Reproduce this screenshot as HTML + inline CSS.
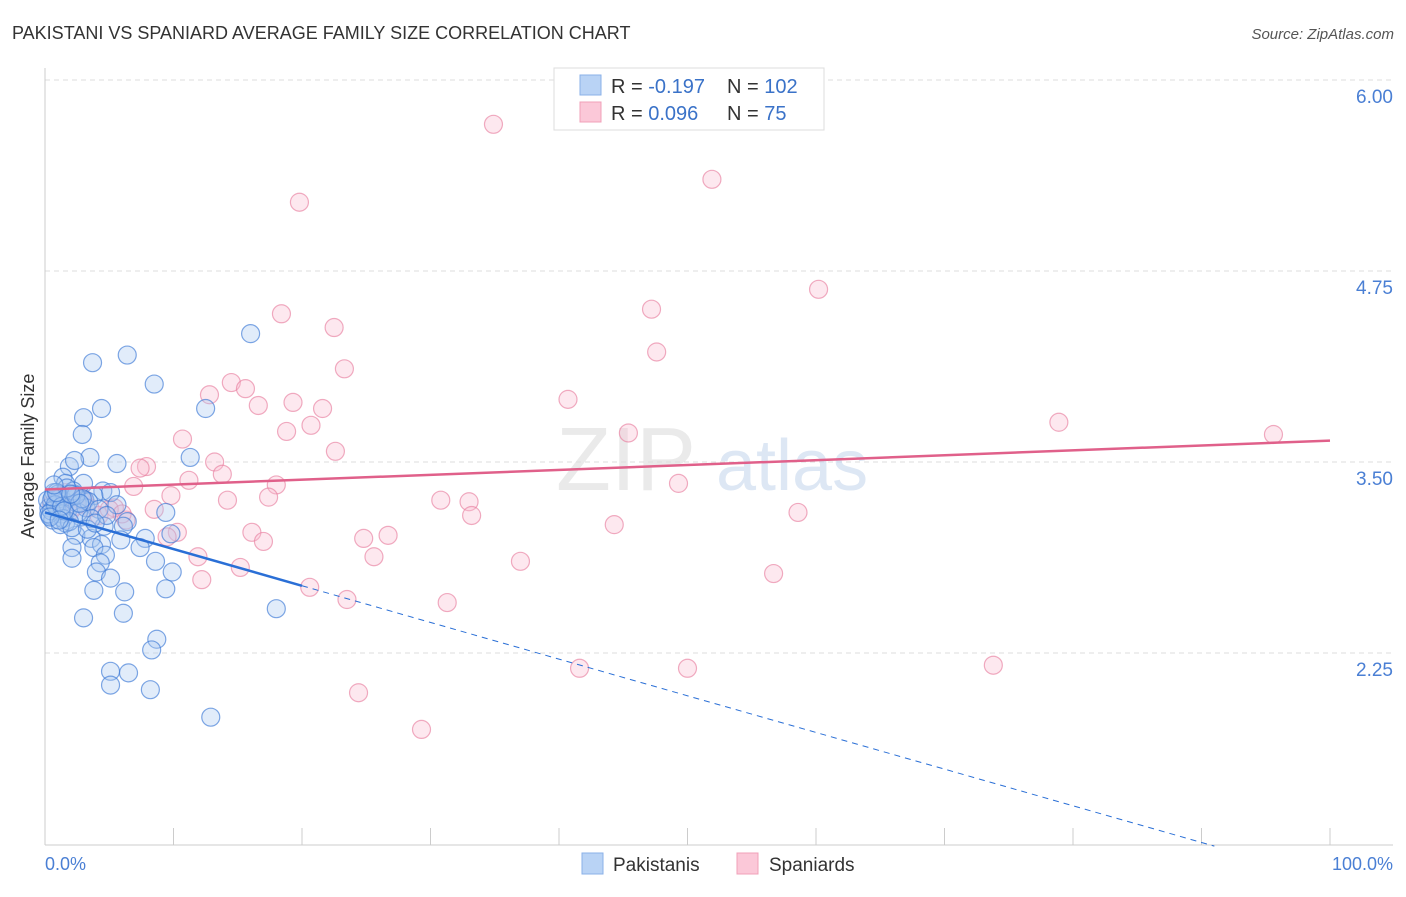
<!DOCTYPE html>
<html><head><meta charset="utf-8"><style>
body{margin:0;background:#fff;font-family:"Liberation Sans",sans-serif;}
svg text{font-family:"Liberation Sans",sans-serif;}
</style></head><body>
<svg id="chart" width="1406" height="892" xmlns="http://www.w3.org/2000/svg">
<text x="12" y="39" font-size="18" fill="#333">PAKISTANI VS SPANIARD AVERAGE FAMILY SIZE CORRELATION CHART</text>
<text x="1394" y="39" font-size="15" fill="#555" text-anchor="end" font-style="italic">Source: ZipAtlas.com</text>
<g id="grid"></g>
<text x="556" y="490" font-size="90" fill="#ddd" font-family="Liberation Serif" opacity="0.6">ZIP</text>
<text x="716" y="490" font-size="72" fill="#c8d8ee" opacity="0.6">atlas</text>
<line x1="45" y1="68" x2="45" y2="845" stroke="#ccc"/>
<line x1="45" y1="845" x2="1393" y2="845" stroke="#ccc"/>
<g id="xticks"></g>
<g id="ylabels"></g>
<text transform="translate(34,456) rotate(-90)" font-size="18" fill="#333" text-anchor="middle">Average Family Size</text>
<text x="45" y="870" font-size="18" fill="#4a7fd4">0.0%</text>
<text x="1393" y="870" font-size="18" fill="#4a7fd4" text-anchor="end">100.0%</text>
<g id="pts"></g>
<g id="trends"></g>
<g>
<rect x="554" y="68" width="270" height="62" fill="#fff" stroke="#ddd"/>
<rect x="580" y="75" width="21" height="20" fill="#b9d3f5" stroke="#8ab0e8"/>
<rect x="580" y="102" width="21" height="20" fill="#fbc8d8" stroke="#f0a0b8"/>
<text x="611" y="93" font-size="20" fill="#333">R = <tspan fill="#3a72c8">-0.197</tspan></text>
<text x="727" y="93" font-size="20" fill="#333">N = <tspan fill="#3a72c8">102</tspan></text>
<text x="611" y="120" font-size="20" fill="#333">R = <tspan fill="#3a72c8"> 0.096</tspan></text>
<text x="727" y="120" font-size="20" fill="#333">N = <tspan fill="#3a72c8">  75</tspan></text>
</g>
<g>
<rect x="582" y="853" width="21" height="21" fill="#b9d3f5" stroke="#8ab0e8"/>
<text x="613" y="871" font-size="19" fill="#333">Pakistanis</text>
<rect x="737" y="853" width="21" height="21" fill="#fbc8d8" stroke="#f0a0b8"/>
<text x="769" y="871" font-size="19" fill="#333">Spaniards</text>
</g>
</svg>
<script>
const yTicks=[6.00,4.75,3.50,2.25];
const blueX=[3.7,6.4,8.5,16.0,4.4,12.5,3.0,2.9,3.5,5.6,11.3,1.9,2.3,1.4,1.6,3.0,4.5,5.1,3.8,2.3,3.1,5.6,6.4,6.1,9.4,4.6,2.4,3.6,4.4,5.9,7.8,9.8,2.1,3.8,7.4,2.1,4.7,4.3,8.6,4.0,5.1,9.9,3.8,6.2,9.4,18.0,3.0,6.1,8.7,8.3,5.1,6.5,5.1,8.2,12.9,
0.3,0.5,0.8,1.0,1.2,0.4,0.7,1.5,1.8,2.0,0.6,0.9,1.1,1.3,2.5,2.8,3.2,0.2,1.6,2.2,0.5,1.0,1.4,2.6,3.4,0.8,1.9,2.4,0.3,1.2,2.9,4.2,1.7,0.6,3.6,2.1,1.3,0.9,4.8,3.3,1.5,2.7,0.4,1.1,2.0,0.7,3.9];
const blueV=[4.15,4.20,4.01,4.34,3.85,3.85,3.79,3.68,3.53,3.49,3.53,3.47,3.51,3.40,3.36,3.36,3.31,3.30,3.28,3.29,3.25,3.22,3.11,3.08,3.17,3.08,3.02,3.00,2.96,2.99,3.00,3.03,2.94,2.94,2.94,2.87,2.89,2.84,2.85,2.78,2.74,2.78,2.66,2.65,2.67,2.54,2.48,2.51,2.34,2.27,2.13,2.12,2.04,2.01,1.83,
3.20,3.25,3.22,3.18,3.28,3.15,3.30,3.24,3.19,3.27,3.12,3.21,3.26,3.16,3.23,3.14,3.20,3.25,3.10,3.31,3.18,3.29,3.13,3.17,3.24,3.22,3.11,3.28,3.16,3.09,3.26,3.19,3.33,3.27,3.13,3.07,3.21,3.30,3.15,3.06,3.18,3.23,3.14,3.12,3.29,3.35,3.10];
const pinkX=[34.9,51.9,19.8,60.2,47.2,18.4,22.5,47.6,23.3,14.5,15.6,12.8,40.7,19.3,16.6,21.6,78.9,20.7,18.8,45.4,95.6,10.7,22.6,13.2,7.9,7.4,13.8,11.2,18.0,6.9,49.3,9.8,17.4,14.2,30.8,33.0,8.5,5.4,58.6,33.2,6.3,10.3,16.1,44.3,9.5,24.8,26.7,17.0,11.9,25.6,15.2,37.0,56.7,12.2,20.6,23.5,31.3,41.6,50.0,73.8,24.4,29.3,
0.5,1.2,2.0,2.8,3.5,4.2,1.6,0.9,3.0,5.0,2.4,6.0,1.0];
const pinkV=[5.71,5.35,5.20,4.63,4.50,4.47,4.38,4.22,4.11,4.02,3.98,3.94,3.91,3.89,3.87,3.85,3.76,3.74,3.70,3.69,3.68,3.65,3.57,3.50,3.47,3.46,3.42,3.38,3.35,3.34,3.36,3.28,3.27,3.25,3.25,3.24,3.19,3.20,3.17,3.15,3.12,3.04,3.04,3.09,3.01,3.00,3.02,2.98,2.88,2.88,2.81,2.85,2.77,2.73,2.68,2.60,2.58,2.15,2.15,2.17,1.99,1.75,
3.22,3.28,3.18,3.25,3.20,3.15,3.30,3.24,3.26,3.19,3.21,3.16,3.27];
const blueTrend=[3.17,-0.0240];
const pinkTrend=[3.32,0.0032];
const NS="http://www.w3.org/2000/svg";
const X=p=>45+p*12.85, Y=v=>80+(6-v)*152.8;
function mk(t,a,parent){const e=document.createElementNS(NS,t);for(const k in a)e.setAttribute(k,a[k]);document.getElementById(parent).appendChild(e);return e;}
yTicks.forEach(t=>{
 const g=mk('line',{x1:45,x2:1393,y1:Y(t),y2:Y(t),stroke:'#ddd','stroke-dasharray':'5,4'},'grid');
 
 
 const l=mk('text',{x:1393,y:Y(t)+23,'font-size':19,fill:'#4a7fd4','text-anchor':'end'},'ylabels');
 l.textContent=t.toFixed(2);
 
 
});
for(let i=0;i<=10;i++){
 const t=mk('line',{x1:X(i*10),x2:X(i*10),y1:828,y2:845,stroke:'#ccc'},'xticks');
 
 
}
function dots(xs,vs,fill,stroke,name){xs.forEach((x,i)=>{
 const c=mk('circle',{cx:X(x),cy:Y(vs[i]),r:9,fill:fill,'fill-opacity':0.35,stroke:stroke,'stroke-opacity':0.65,'stroke-width':1.2},'pts');
 
 
});}
dots(pinkX,pinkV,'#f8bcd0','#e87fa0','spaniard-point');
dots(blueX,blueV,'#a9c8f2','#3b78d6','pakistani-point');
const bs=mk('line',{x1:X(0),y1:Y(blueTrend[0]),x2:X(20),y2:Y(blueTrend[0]+20*blueTrend[1]),stroke:'#2a6fd6','stroke-width':2.5},'trends');


const xEnd=91;
const bd=mk('line',{x1:X(20),y1:Y(blueTrend[0]+20*blueTrend[1]),x2:X(xEnd),y2:Y(blueTrend[0]+xEnd*blueTrend[1]),stroke:'#2a6fd6','stroke-width':1,'stroke-dasharray':'6,5'},'trends');


const ps=mk('line',{x1:X(0),y1:Y(pinkTrend[0]),x2:X(100),y2:Y(pinkTrend[0]+100*pinkTrend[1]),stroke:'#e0608a','stroke-width':2.5},'trends');


</script>
</body></html>
